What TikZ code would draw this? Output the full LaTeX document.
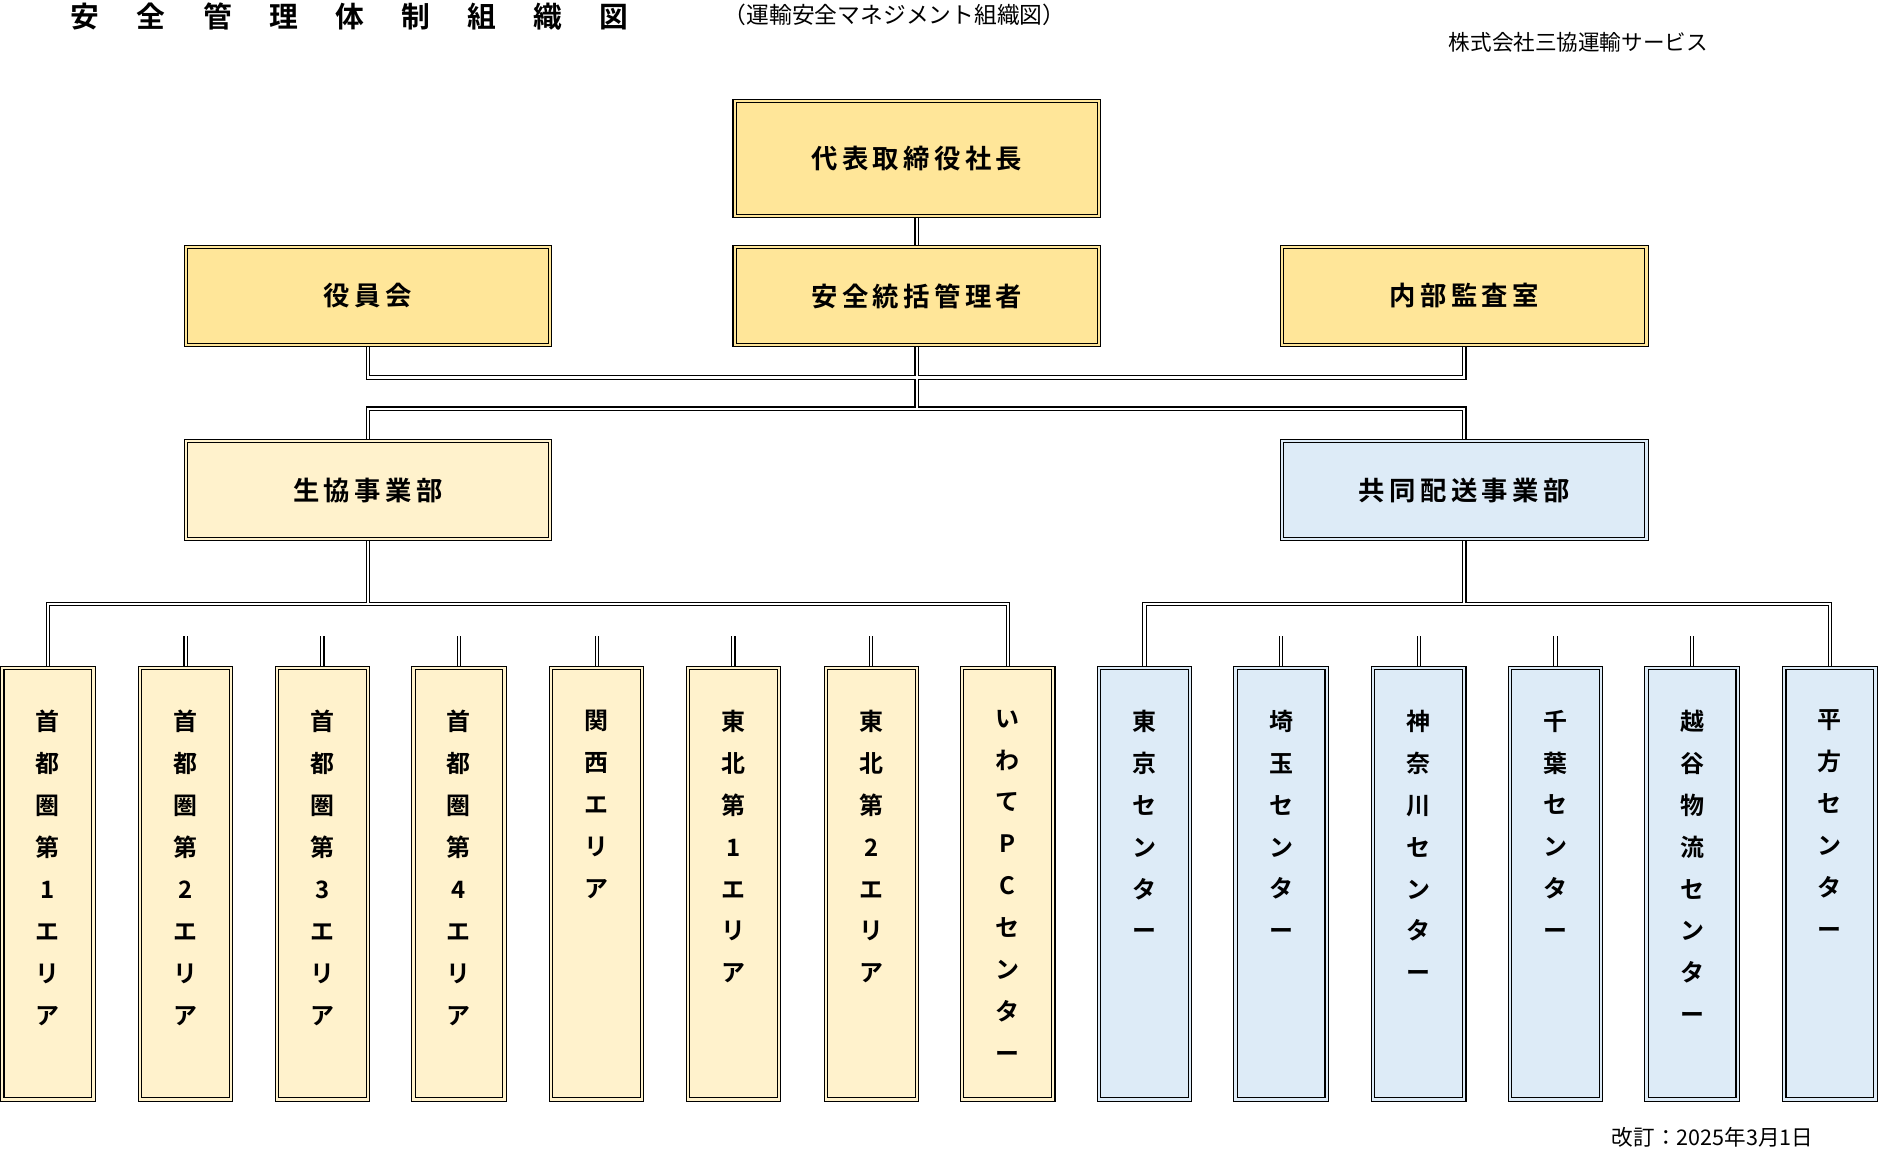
\documentclass[tikz,border=0pt]{standalone}
\usetikzlibrary{backgrounds}
\usepackage{fontspec}
\setmainfont{Noto Sans CJK JP}[BoldFont={* Bold}]
\newfontfamily\jpb{Noto Sans CJK JP Bold}
\newfontfamily\jpr{Noto Sans CJK JP}
\definecolor{gold}{HTML}{FFE699}
\definecolor{pale}{HTML}{FFF2CC}
\definecolor{pblue}{HTML}{DDEBF7}
\tikzset{
 box/.style={draw=black, line width=0.45pt, double distance=0.9pt, inner sep=0, font=\jpb\fontsize{11}{13}\selectfont},
 big/.style={box, minimum width=152pt, minimum height=41pt},
 small/.style={box, minimum width=38pt, minimum height=180pt, anchor=north},
 vtext/.style={anchor=north, align=center, inner sep=0, font=\jpb\fontsize{10}{17.5}\selectfont},
}
\newcommand{\conns}{%
 (ceo) -- (ssk)
 (yak.south) |- (765,315) -| (nai.south)
 (ssk.south) -- (765,341)
 (sei.north) |- (765,341) -| (kyo.north)
 (sei.south) -- (307,504)
 (a1.north) |- (307,504) -| (a8.north)
 (a2.north) -- ++(0,-26) (a3.north) -- ++(0,-26) (a4.north) -- ++(0,-26) (a5.north) -- ++(0,-26) (a6.north) -- ++(0,-26) (a7.north) -- ++(0,-26)
 (kyo.south) -- (1222,504)
 (b1.north) |- (1222,504) -| (b6.north)
 (b2.north) -- ++(0,-26) (b3.north) -- ++(0,-26) (b4.north) -- ++(0,-26) (b5.north) -- ++(0,-26)
}
\begin{document}
\begin{tikzpicture}[x=0.5pt,y=-0.5pt]
\useasboundingbox (0,0) rectangle (1568,959);
\node[font=\jpb\fontsize{12}{14}\selectfont, anchor=west] (title) at (52,14) {安\hspace{1.3em}全\hspace{1.3em}管\hspace{1.3em}理\hspace{1.3em}体\hspace{1.3em}制\hspace{1.3em}組\hspace{1.3em}織\hspace{1.3em}図};
\node[font=\jpr\fontsize{9.5}{11}\selectfont, anchor=west] (sub) at (597,12) {（運輸安全マネジメント組織図）};
\node[font=\jpr\fontsize{9}{11}\selectfont, anchor=west] (co) at (1202,35) {株式会社三協運輸サービス};
\node[font=\jpr\fontsize{9}{11}\selectfont, anchor=west] (rev) at (1338,949) {改訂：2025年3月1日};

\node[big, fill=gold, double=gold, minimum height=48pt] (ceo) at (765,132) {代\,表\,取\,締\,役\,社\,長};
\node[big, fill=gold, double=gold] (yak) at (307,247) {役\,員\,会};
\node[big, fill=gold, double=gold] (ssk) at (765,247) {安\,全\,統\,括\,管\,理\,者};
\node[big, fill=gold, double=gold] (nai) at (1222,247) {内\,部\,監\,査\,室};
\node[big, fill=pale, double=pale] (sei) at (307,409) {生\,協\,事\,業\,部};
\node[big, fill=pblue, double=pblue] (kyo) at (1222,409) {共\,同\,配\,送\,事\,業\,部};

\foreach \n/\x/\t in {a1/40/{首\\都\\圏\\第\\1\\エ\\リ\\ア},a2/155/{首\\都\\圏\\第\\2\\エ\\リ\\ア},a3/269/{首\\都\\圏\\第\\3\\エ\\リ\\ア},a4/383/{首\\都\\圏\\第\\4\\エ\\リ\\ア},a5/498/{関\\西\\エ\\リ\\ア},a6/612/{東\\北\\第\\1\\エ\\リ\\ア},a7/727/{東\\北\\第\\2\\エ\\リ\\ア},a8/841/{い\\わ\\て\\P\\C\\セ\\ン\\タ\\ー}}{
 \node[small, fill=pale, double=pale] (\n) at (\x,557) {};
 \node[vtext] (\n t) at (\x,592) {\t};
}
\foreach \n/\x/\t in {b1/955/{東\\京\\セ\\ン\\タ\\ー},b2/1069/{埼\\玉\\セ\\ン\\タ\\ー},b3/1184/{神\\奈\\川\\セ\\ン\\タ\\ー},b4/1298/{千\\葉\\セ\\ン\\タ\\ー},b5/1412/{越\\谷\\物\\流\\セ\\ン\\タ\\ー},b6/1527/{平\\方\\セ\\ン\\タ\\ー}}{
 \node[small, fill=pblue, double=pblue] (\n) at (\x,557) {};
 \node[vtext] (\n t) at (\x,592) {\t};
}
\begin{pgfonlayer}{background}
\draw[line width=1.9pt] \conns;
\draw[line width=0.9pt, white] \conns;
\end{pgfonlayer}
\end{tikzpicture}
\end{document}
